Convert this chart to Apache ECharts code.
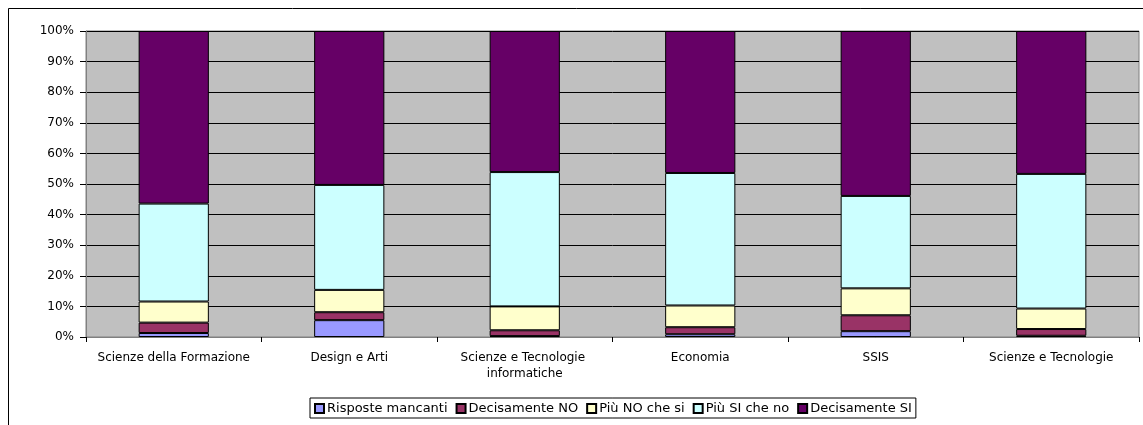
<!DOCTYPE html>
<html>
<head>
<meta charset="utf-8">
<script src="https://cdn.jsdelivr.net/npm/echarts@6/dist/echarts.min.js"></script>
<style>
  html, body { margin: 0; padding: 0; background: #fff; }
  #chart { width: 1143px; height: 425px; }
</style>
</head>
<body>
<div id="chart"></div>
<script>
// facoltà
const categories = ['Scienze della Formazione', 'Design e Arti', 'Scienze e Tecnologie informatiche', 'Economia', 'SSIS', 'Scienze e Tecnologie'];

// percentuali per ogni risposta
const risposteMancanti = [1.3, 5.5, 0.3, 0.9, 1.9, 0.4];
const decisamenteNo = [3.4, 2.6, 1.9, 2.3, 5.2, 2.2];
const piuNoCheSi = [6.9, 7.3, 7.8, 7.1, 8.8, 6.7];
const piuSiCheNo = [32.0, 34.3, 43.9, 43.3, 30.2, 44.0];
const decisamenteSi = [56.4, 50.3, 46.1, 46.4, 53.9, 46.7];

const yTicks = [0, 10, 20, 30, 40, 50, 60, 70, 80, 90, 100];

const font = 'DejaVu Sans';

function serie(name, data, color) {
    return {
        name: name,
        type: 'bar',
        stack: 'tot',
        barWidth: '40%',
        data: data,
        itemStyle: { color: color, borderColor: '#000', borderWidth: 1 }
    };
}

const chart = echarts.init(document.getElementById('chart'));
chart.setOption({
    animation: false,
    textStyle: { fontFamily: font },
    graphic: [{
        type: 'rect',
        shape: { x: 8.5, y: 8.5, width: 1200, height: 500 },
        style: { fill: 'none', stroke: '#000', lineWidth: 1 },
        silent: true
    }],
    grid: {
        left: 86, right: 4, top: 31, bottom: 88,
        show: true,
        backgroundColor: '#C0C0C0',
        borderColor: '#808080',
        borderWidth: 1
    },
    legend: {
        left: 310,
        top: 398,
        padding: [4, 4, 3, 4],
        itemGap: 8,
        itemWidth: 9,
        itemHeight: 9,
        borderColor: '#000',
        borderWidth: 1,
        backgroundColor: '#fff',
        icon: 'rect',
        textStyle: { fontFamily: font, fontSize: 13, color: '#000', padding: [0, 0, 0, -2] }
    },
    xAxis: {
        type: 'category',
        data: categories,
        axisLine: { lineStyle: { color: '#808080' } },
        axisTick: { show: true, length: 5, lineStyle: { color: '#000' } },
        axisLabel: {
            interval: 0,
            color: '#000',
            fontSize: 12,
            fontFamily: font,
            margin: 13,
            width: 165,
            overflow: 'break',
            lineHeight: 16
        }
    },
    yAxis: {
        type: 'value',
        min: yTicks[0],
        max: yTicks[yTicks.length - 1],
        interval: 10,
        axisLine: { show: true, lineStyle: { color: '#808080' } },
        axisTick: { show: true, length: 6, lineStyle: { color: '#000' } },
        splitLine: { lineStyle: { color: '#000', width: 1 } },
        axisLabel: { formatter: '{value}%', color: '#000', fontSize: 12, fontFamily: font, margin: 12 }
    },
    series: [
        serie('Risposte mancanti', risposteMancanti, '#9999FF'),
        serie('Decisamente NO', decisamenteNo, '#993366'),
        serie('Più NO che si', piuNoCheSi, '#FFFFCC'),
        serie('Più SI che no', piuSiCheNo, '#CCFFFF'),
        serie('Decisamente SI', decisamenteSi, '#660066')
    ]
});
</script>
</body>
</html>
